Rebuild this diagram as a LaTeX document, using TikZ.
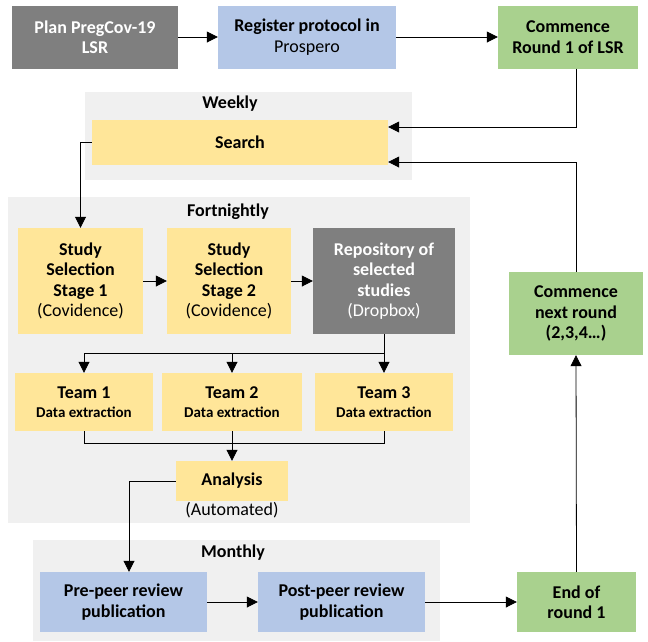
\documentclass[tikz,border=0pt]{standalone}
\usepackage{fontspec}
\setmainfont{Carlito}
\usetikzlibrary{arrows.meta}
\definecolor{cgray}{HTML}{7F7F7F}
\definecolor{cblue}{HTML}{B4C7E7}
\definecolor{cgreen}{HTML}{A9D18E}
\definecolor{cyellow}{HTML}{FFE699}
\definecolor{cpanel}{HTML}{F0F0F0}
\tikzset{
  box/.style={inner sep=2pt, align=center, font=\fontsize{18}{20.5}\selectfont},
  graybox/.style={box, fill=cgray, text=white},
  bluebox/.style={box, fill=cblue},
  greenbox/.style={box, fill=cgreen},
  yellowbox/.style={box, fill=cyellow},
  panel/.style={fill=cpanel, draw=none},
  plabel/.style={font=\fontsize{18}{20}\selectfont\bfseries},
  arr/.style={-{Triangle[length=11pt,width=11pt]}, line width=0.8pt},
  ln/.style={line width=0.8pt},
}
\newcommand{\smallde}{\fontsize{15}{18}\selectfont\bfseries Data extraction}
\begin{document}
\begin{tikzpicture}[x=1pt,y=-1pt]
\useasboundingbox (0,0) rectangle (648,641);
% panels
\fill[panel] (85,92) rectangle (412,180);
\fill[panel] (8,197) rectangle (470,523);
\fill[panel] (33,540) rectangle (440,641);
\node[plabel] (wk) at (230,104) {Weekly};
\node[plabel] (fn) at (228,212) {Fortnightly};
\node[plabel] (mo) at (233,553) {Monthly};
% top row
\node[graybox, minimum width=166pt, minimum height=63pt] (plan) at (95,37) {\bfseries Plan PregCov-19\\\bfseries LSR};
\node[bluebox, minimum width=178pt, minimum height=63pt] (reg) at (307,37) {\bfseries Register protocol in\\Prospero};
\node[greenbox, minimum width=140pt, minimum height=63pt] (c1) at (568,37) {\bfseries Commence\\\bfseries Round 1 of LSR};
% weekly
\node[yellowbox, minimum width=296pt, minimum height=45pt] (search) at (240,142.5) {\bfseries Search};
% fortnightly
\node[yellowbox, minimum width=125pt, minimum height=106pt] (ss1) at (80.5,281) {\bfseries Study\\\bfseries Selection\\\bfseries Stage 1\\(Covidence)};
\node[yellowbox, minimum width=124pt, minimum height=106pt] (ss2) at (229,281) {\bfseries Study\\\bfseries Selection\\\bfseries Stage 2\\(Covidence)};
\node[graybox, minimum width=142pt, minimum height=106pt] (repo) at (384,281) {\bfseries Repository of\\\bfseries selected\\\bfseries studies\\(Dropbox)};
\node[yellowbox, minimum width=138pt, minimum height=58pt] (t1) at (84,402) {\bfseries Team 1\\[-2pt]\smallde};
\node[yellowbox, minimum width=140pt, minimum height=58pt] (t2) at (232,402) {\bfseries Team 2\\[-2pt]\smallde};
\node[yellowbox, minimum width=138pt, minimum height=58pt] (t3) at (384,402) {\bfseries Team 3\\[-2pt]\smallde};
\node[yellowbox, minimum width=112pt, minimum height=40pt] (ana) at (232,481) {\bfseries Analysis};
\node[box] (auto) at (232,510) {(Automated)};
% monthly
\node[bluebox, minimum width=167pt, minimum height=60pt] (pre) at (123.5,602) {\bfseries Pre-peer review\\\bfseries publication};
\node[bluebox, minimum width=167pt, minimum height=60pt] (post) at (341.5,602) {\bfseries Post-peer review\\\bfseries publication};
\node[greenbox, minimum width=119pt, minimum height=60pt] (end) at (576.5,602) {\bfseries End of\\\bfseries round 1};
\node[greenbox, minimum width=134pt, minimum height=83pt] (next) at (576,313.5) {\bfseries Commence\\\bfseries next round\\\bfseries (2,3,4\dots)};
% connectors
\draw[arr] (plan) -- (reg);
\draw[arr] (reg) -- (c1);
\draw[arr] ([xshift=8pt]c1.south) |- ([yshift=15.5pt]search.east);
\draw[arr] (next.north) |- ([yshift=-19.5pt]search.east);
\draw[arr] (search.west) -| (ss1.north);
\draw[arr] (ss1) -- (ss2);
\draw[arr] (ss2) -- (repo);
\coordinate (split) at (384,353);
\draw[ln] (repo.south) -- (split) -- (split -| t1.north);
\draw[arr] (split -| t1.north) -- (t1.north);
\draw[arr] (split -| t2.north) -- (t2.north);
\draw[arr] (split) -- (t3.north);
\coordinate (merge) at (232,443);
\draw[ln] (t1.south) |- (merge) -| (t3.south);
\draw[arr] (t2.south) -- (ana.north);
\draw[arr] (ana.west) -| ([xshift=5.5pt]pre.north);
\draw[arr] (pre) -- (post);
\draw[arr] (post) -- (end);
\draw[arr] (end.north) -- (next.south);
\end{tikzpicture}
\end{document}
